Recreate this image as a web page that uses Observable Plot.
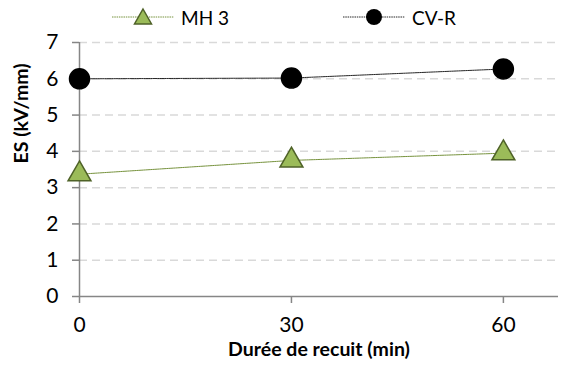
<!DOCTYPE html>
<html><head><meta charset="utf-8">
<script src="https://cdn.jsdelivr.net/npm/d3@7"></script>
<script src="https://cdn.jsdelivr.net/npm/@observablehq/plot@0.6"></script>
<style>
body{margin:0;background:#fff;font-family:Lato,"Open Sans",sans-serif;}
#legend{height:34px;position:relative;font-size:19px;}
.item{position:absolute;top:4px;display:flex;align-items:center;}
.item span{margin-left:7px;}
</style></head><body>
<div id="legend"></div>
<div id="chart"></div>
<script>
const durations = [0, 30, 60];
const seriesNames = ["MH 3", "CV-R"];
const mh3 = [3.37, 3.75, 3.95];
const cvr = [6.0, 6.02, 6.27];
const yTicks = [0, 1, 2, 3, 4, 5, 6, 7];
const xTicks = [0, 30, 60];

const data = [];
durations.forEach((d, i) => {
  data.push({t: d, v: mh3[i], s: seriesNames[0]});
  data.push({t: d, v: cvr[i], s: seriesNames[1]});
});
const mhData = data.filter(d => d.s === "MH 3");
const cvData = data.filter(d => d.s === "CV-R");

const font = "Lato, 'Open Sans', sans-serif";
const plot = Plot.plot({
  width: 563, height: 331,
  marginLeft: 79, marginRight: 5, marginTop: 8, marginBottom: 69,
  style: {fontFamily: font, fontSize: "20px", color: "#000", background: "#fff", overflow: "visible"},
  x: {domain: [0, 67.8], ticks: xTicks, label: null},
  y: {domain: [0, 7], ticks: yTicks, label: null},
  marks: [
    Plot.ruleY(yTicks.filter(d => d > 0), {stroke: "#d9d9d9", strokeWidth: 1.5, strokeDasharray: "8,5"}),
    Plot.ruleX([0], {stroke: "#868686", strokeWidth: 1.5}),
    Plot.ruleY([0], {stroke: "#868686", strokeWidth: 1.5}),
    Plot.axisY({ticks: yTicks, tickFormat: "d", tickSize: 7, tickPadding: 14, stroke: "#868686", strokeWidth: 1.5, fontSize: 21, label: null}),
    Plot.axisX({ticks: xTicks, tickFormat: "d", tickSize: 7, tickPadding: 14, stroke: "#868686", strokeWidth: 1.5, fontSize: 21, label: null}),
    Plot.text(["Durée de recuit (min)"], {frameAnchor: "bottom", dy: 59, fontWeight: "bold", fontSize: 19.5}),
    Plot.text(["ES (kV/mm)"], {frameAnchor: "left", rotate: -90, dx: -58, dy: -6, fontWeight: "bold", fontSize: 19.5}),
    Plot.line(mhData, {x: "t", y: "v", stroke: "#76923c", strokeWidth: 1, strokeDasharray: "1.5,0.8"}),
    Plot.line(cvData, {x: "t", y: "v", stroke: "#262626", strokeWidth: 1, strokeDasharray: "1.5,0.8"}),
    Plot.dot(mhData, {x: "t", y: "v", symbol: "triangle", r: 8.5, fill: "#9bbb59", stroke: "#4f6228", strokeWidth: 1.5}),
    Plot.dot(cvData, {x: "t", y: "v", r: 10, fill: "#000", stroke: "#000"})
  ]
});
document.getElementById("chart").appendChild(plot);

const legend = document.getElementById("legend");
const items = [
  {name: seriesNames[0], left: 112, color: "#76923c", sym: "tri"},
  {name: seriesNames[1], left: 343, color: "#262626", sym: "circ"}
];
items.forEach(it => {
  const div = document.createElement("div");
  div.className = "item";
  div.style.left = it.left + "px";
  const symSvg = it.sym === "tri"
    ? `<polygon points="31,5 39.5,20 22.5,20" fill="#9bbb59" stroke="#4f6228" stroke-width="1.5"/>`
    : `<circle cx="31" cy="13" r="8" fill="#000"/>`;
  div.innerHTML = `<svg width="62" height="26"><line x1="0" x2="62" y1="13" y2="13" stroke="${it.color}" stroke-width="1" stroke-dasharray="1.5,0.8"/>${symSvg}</svg><span>${it.name}</span>`;
  legend.appendChild(div);
});
</script>
</body></html>
